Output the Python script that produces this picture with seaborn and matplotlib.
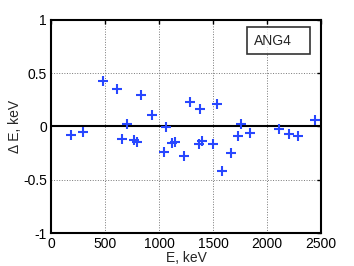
#--Import libraries--#
import numpy as np
import pandas as pd
import seaborn as sns
import matplotlib
matplotlib.use("Agg")
import matplotlib.pyplot as plt
from matplotlib.lines import Line2D

#--Data--#
energy = [182, 293, 484, 608, 660, 701, 771, 793, 833, 932,
          1049, 1065, 1117, 1148, 1231, 1284, 1370, 1383, 1401, 1503,
          1534, 1580, 1663, 1728, 1759, 1843, 2114, 2200, 2284, 2444]
delta_e = [-0.084, -0.053, 0.43, 0.353, -0.116, 0.022, -0.128, -0.147, 0.30, 0.106,
           -0.24, -0.006, -0.153, -0.147, -0.278, 0.234, -0.165, 0.168, -0.138, -0.169,
           0.209, -0.419, -0.253, -0.093, 0.028, -0.059, -0.022, -0.069, -0.09, 0.059]
series_name = "ANG4"
x_ticks = [0, 500, 1000, 1500, 2000, 2500]
y_ticks = [-1, -0.5, 0, 0.5, 1]
y_tick_labels = ["-1", "-0.5", "0", "0.5", "1"]

df = pd.DataFrame({"E": energy, "dE": delta_e})

#--Style--#
sns.set_style("white")
plt.rcParams["font.family"] = ["Liberation Sans", "DejaVu Sans"]
plt.rcParams["font.size"] = 10

fig = plt.figure(figsize=(3.54, 2.66), dpi=100)
ax = fig.add_axes([0.144, 0.124, 0.763, 0.801])

#--Plot--#
ax.axhline(0, color="black", lw=1.5, zorder=1)
sns.scatterplot(data=df, x="E", y="dE", marker="+", s=45, linewidth=1.5,
                color="#2847ff", ax=ax, zorder=3)

ax.set_xlim(0, 2500)
ax.set_ylim(-1, 1)
ax.set_xticks(x_ticks)
ax.set_yticks(y_ticks)
ax.set_yticklabels(y_tick_labels)
ax.grid(True, linestyle=":", color="#777777", lw=0.7)
ax.tick_params(direction="in", length=3, width=1, top=True, right=True,
               labelsize=10, pad=3, colors="black")
for sp in ax.spines.values():
    sp.set_color("black")
    sp.set_linewidth(1.5)

ax.set_xlabel("E, keV", fontsize=10, labelpad=0)
ax.set_ylabel("\u0394 E, keV", fontsize=10, labelpad=1)

#--Legend box (no marker, like the reference)--#
handle = Line2D([], [], color="none")
leg = ax.legend([handle], [series_name], loc="upper right", markerfirst=False,
                handlelength=0.6, handletextpad=0.3, borderpad=0.45,
                borderaxespad=0, fontsize=10, frameon=True, fancybox=False,
                bbox_to_anchor=(0.96, 0.965))
leg.get_frame().set_edgecolor("black")
leg.get_frame().set_linewidth(1.2)

fig.savefig("out.png", dpi=100)
